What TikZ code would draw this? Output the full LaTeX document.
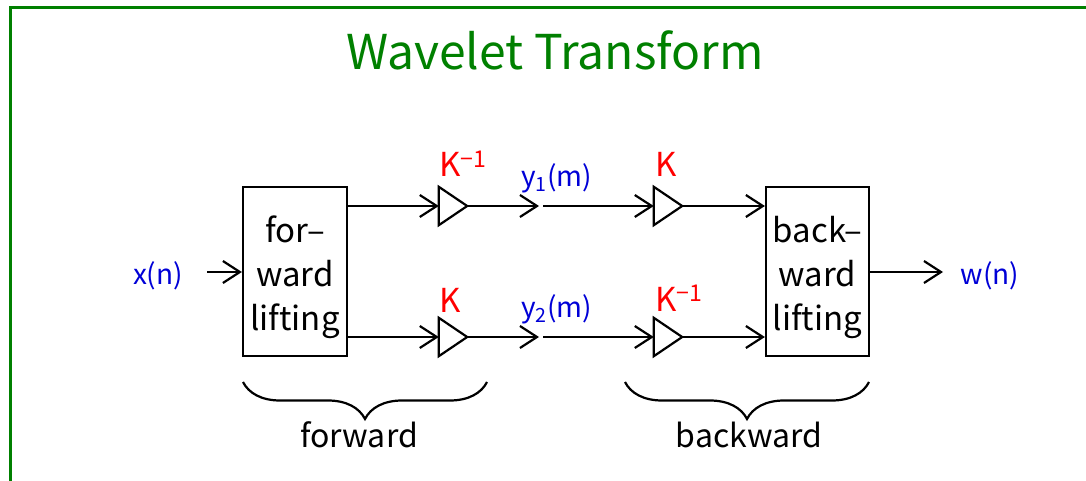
\documentclass[tikz,border=0pt]{standalone}
\usepackage{fontspec}
\setmainfont{Noto Sans CJK JP}
\usetikzlibrary{arrows.meta,decorations.pathreplacing}
\definecolor{frameg}{RGB}{0,128,0}
\definecolor{lblue}{RGB}{0,0,215}
\definecolor{lred}{RGB}{255,0,0}
\tikzset{
  arr/.style={line width=2.2pt,-{Straight Barb[length=17pt,width=22pt]}},
  blockbox/.style={draw,line width=2.2pt,inner sep=0pt},
  blocktext/.style={inner sep=0pt,align=center,font=\fontsize{33}{44}\selectfont},
  gainbox/.style={inner sep=0pt,minimum width=28pt,minimum height=38pt},
  gainlbl/.style={text=lred,inner sep=0pt,anchor=base west,font=\fontsize{33}{40}\selectfont},
  sig/.style={text=lblue,inner sep=0pt,font=\fontsize{28}{32}\selectfont},
  brlbl/.style={inner sep=0pt,anchor=base,font=\fontsize{32}{38}\selectfont},
  brc/.style={line width=2.2pt,decorate,decoration={brace,mirror,amplitude=37pt,aspect=0.5}},
}
\begin{document}
\begin{tikzpicture}[x=1pt,y=-1pt]
\useasboundingbox (0,0) rectangle (1086,481);
% frame
\draw[frameg,line width=3pt] (10,490) -- (10,7.5) -- (1095,7.5);
\node[text=frameg,inner sep=0pt,anchor=base,font=\fontsize{48}{56}\selectfont] (title) at (555,70) {Wavelet Transform};
% blocks
\node[blockbox,minimum width=104pt,minimum height=169pt] (lbox) at (295,271.5) {};
\node[blockbox,minimum width=103pt,minimum height=169pt] (rbox) at (817.5,271.5) {};
\node[blocktext] (ltxt) at (295,277) {for–\\ward\\lifting};
\node[blocktext] (rtxt) at (817.5,277) {back–\\ward\\lifting};
% gains
\node[gainbox] (t1) at (453,206) {};
\node[gainbox] (t2) at (453,337) {};
\node[gainbox] (t3) at (668,206) {};
\node[gainbox] (t4) at (668,337) {};
\foreach \t in {t1,t2,t3,t4}
  \draw[line width=2.2pt,line join=miter] (\t.north west) -- (\t.east) -- (\t.south west) -- cycle;
\node[gainlbl] (k1) at (439,177) {K\textsuperscript{−1}};
\node[gainlbl] (k2) at (439,312) {K};
\node[gainlbl] (k3) at (655,177) {K};
\node[gainlbl] (k4) at (655,311) {K\textsuperscript{−1}};
% signal points
\coordinate (m1a) at (539,206);
\coordinate (m1b) at (543,206);
\coordinate (m2a) at (539,337);
\coordinate (m2b) at (543,337);
\node[sig,anchor=base west] (y1) at (521,186) {y\textsubscript{1}(m)};
\node[sig,anchor=base west] (y2) at (521,317) {y\textsubscript{2}(m)};
\node[sig,anchor=base] (xn) at (158,284) {x(n)};
\node[sig,anchor=base] (wn) at (990,284) {w(n)};
\coordinate (xin) at (207,272);
\coordinate (wout) at (943,272);
% connectors
\draw[arr] (xin) -- (lbox.west |- xin);
\draw[arr] (lbox.east |- t1) -- (t1.west);
\draw[arr] (lbox.east |- t2) -- (t2.west);
\draw[arr] (t1.east) -- (m1a);
\draw[arr] (t2.east) -- (m2a);
\draw[arr] (m1b) -- (t3.west);
\draw[arr] (m2b) -- (t4.west);
\draw[arr] (t3.east) -- (rbox.west |- t3);
\draw[arr] (t4.east) -- (rbox.west |- t4);
\draw[arr] (rbox.east |- wout) -- (wout);
% braces
\coordinate (b1s) at (243,382);
\coordinate (b1e) at (487,382);
\coordinate (b2s) at (625,382);
\coordinate (b2e) at (869,382);
\draw[brc] (b1s) -- (b1e);
\draw[brc] (b2s) -- (b2e);
\node[brlbl] (fw) at (359,447) {forward};
\node[brlbl] (bw) at (749,447) {backward};
\end{tikzpicture}
\end{document}
